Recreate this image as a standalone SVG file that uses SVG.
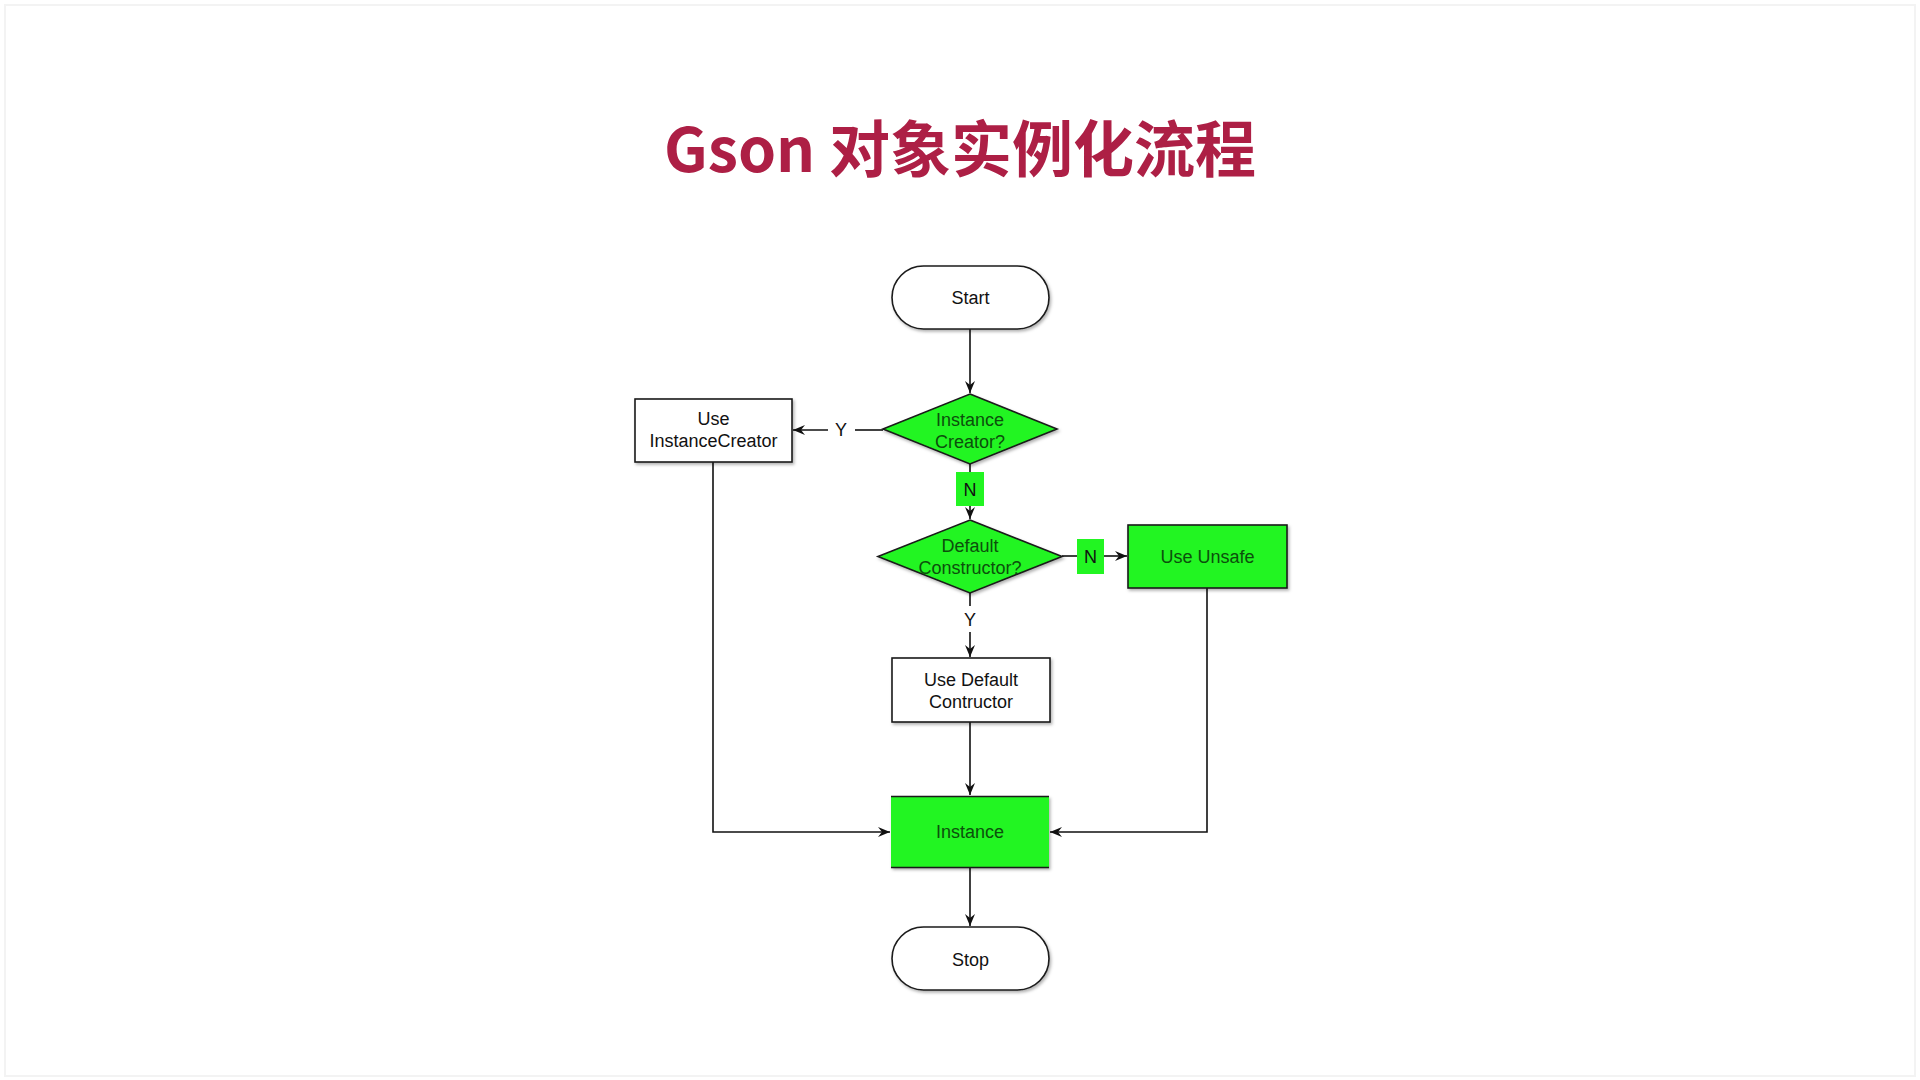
<svg xmlns="http://www.w3.org/2000/svg" width="1920" height="1080" viewBox="0 0 1920 1080">
<defs>
<style>
.lbl{font-family:"Liberation Sans",Arial,sans-serif;font-size:18px;fill:#111;text-anchor:middle}
.glbl{font-family:"Liberation Sans",Arial,sans-serif;font-size:18px;fill:#0c4f0c;text-anchor:middle}
.box{fill:#fff;stroke:#1a1a1a;stroke-width:1.6}
.gbox{fill:#22f522;stroke:#1a1a1a;stroke-width:1.6}
.edge{fill:none;stroke:#111;stroke-width:1.6}
.title{font-family:"Noto Sans CJK SC","Noto Sans",sans-serif;font-weight:700;font-size:61px;fill:#ad1f45;text-anchor:middle}
</style>
<marker id="arr" viewBox="0 0 12 10" refX="12" refY="5" markerWidth="12" markerHeight="10" markerUnits="userSpaceOnUse" orient="auto">
<path d="M0,0 L12,5 L0,10 L4,5 z" fill="#111"/>
</marker>
<filter id="sh" x="-10%" y="-10%" width="125%" height="130%">
<feDropShadow dx="1.5" dy="2" stdDeviation="1.5" flood-color="#000" flood-opacity="0.3"/>
</filter>
</defs>
<rect x="0" y="0" width="1920" height="1080" fill="#fff"/>
<rect x="5" y="5" width="1910" height="1071" fill="none" stroke="#f3f3f3" stroke-width="2"/>
<text class="title" x="960" y="172">Gson 对象实例化流程</text>

<g id="connectors">
<line class="edge" x1="970" y1="329" x2="970" y2="393" marker-end="url(#arr)"/>
<line class="edge" x1="883" y1="430" x2="855" y2="430"/>
<line class="edge" x1="828" y1="430" x2="793" y2="430" marker-end="url(#arr)"/>
<line class="edge" x1="970" y1="464" x2="970" y2="472"/>
<line class="edge" x1="970" y1="506" x2="970" y2="519" marker-end="url(#arr)"/>
<line class="edge" x1="1062" y1="556" x2="1077" y2="556"/>
<line class="edge" x1="1104" y1="556" x2="1127" y2="556" marker-end="url(#arr)"/>
<line class="edge" x1="970" y1="593" x2="970" y2="606"/>
<line class="edge" x1="970" y1="632" x2="970" y2="657" marker-end="url(#arr)"/>
<line class="edge" x1="970" y1="722" x2="970" y2="795" marker-end="url(#arr)"/>
<line class="edge" x1="970" y1="868" x2="970" y2="926" marker-end="url(#arr)"/>
<polyline class="edge" points="713,462 713,832 890,832" marker-end="url(#arr)"/>
<polyline class="edge" points="1207,588 1207,832 1050,832" marker-end="url(#arr)"/>
<text class="lbl" x="841" y="436">Y</text>
<text class="lbl" x="970" y="626">Y</text>
<rect x="956" y="472" width="28" height="34" fill="#22f522"/>
<text class="lbl" x="970" y="496">N</text>
<rect x="1077" y="539" width="27" height="35" fill="#22f522"/>
<text class="lbl" x="1090.5" y="563">N</text>
</g>

<g id="start">
<rect class="box" filter="url(#sh)" x="892" y="266" width="157" height="63" rx="31.5"/>
<text class="lbl" x="970.5" y="304">Start</text>
</g>

<g id="q-instance-creator">
<polygon class="gbox" filter="url(#sh)" points="970,394 1057,429 970,464 883,429"/>
<text class="glbl" x="970" y="426">Instance</text>
<text class="glbl" x="970" y="448">Creator?</text>
</g>

<g id="use-instance-creator">
<rect class="box" filter="url(#sh)" x="635" y="399" width="157" height="63"/>
<text class="lbl" x="713.5" y="425">Use</text>
<text class="lbl" x="713.5" y="447">InstanceCreator</text>
</g>

<g id="q-default-constructor">
<polygon class="gbox" filter="url(#sh)" points="970,520 1062,556.5 970,593 878,556.5"/>
<text class="glbl" x="970" y="552">Default</text>
<text class="glbl" x="970" y="574">Constructor?</text>
</g>

<g id="use-unsafe">
<rect class="gbox" filter="url(#sh)" x="1128" y="525" width="159" height="63"/>
<text class="glbl" x="1207.5" y="563">Use Unsafe</text>
</g>

<g id="use-default-constructor">
<rect class="box" filter="url(#sh)" x="892" y="658" width="158" height="64"/>
<text class="lbl" x="971" y="686">Use Default</text>
<text class="lbl" x="971" y="708">Contructor</text>
</g>

<g id="instance">
<rect x="891" y="796" width="158" height="72" fill="#22f522" filter="url(#sh)"/>
<line x1="891" y1="796.5" x2="1049" y2="796.5" stroke="#1a1a1a" stroke-width="1.6"/>
<line x1="891" y1="867.5" x2="1049" y2="867.5" stroke="#1a1a1a" stroke-width="1.6"/>
<text class="glbl" x="970" y="838">Instance</text>
</g>

<g id="stop">
<rect class="box" filter="url(#sh)" x="892" y="927" width="157" height="63" rx="31.5"/>
<text class="lbl" x="970.5" y="966">Stop</text>
</g>
</svg>
